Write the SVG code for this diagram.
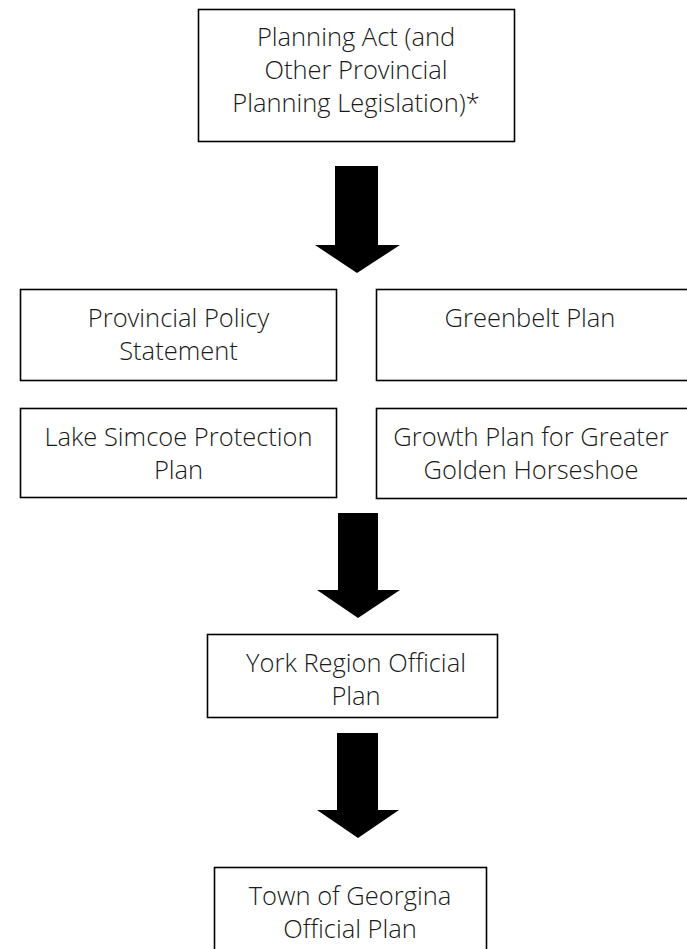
<svg xmlns="http://www.w3.org/2000/svg" width="687" height="949" viewBox="0 0 687 949">
<style>
.box{fill:#fff;stroke:#000;stroke-width:1.6}
.t{font-family:"Open Sans","Liberation Sans",sans-serif;font-weight:300;font-size:25.5px;fill:#1a1a1a;text-anchor:middle}
.arr{fill:#000}
</style>
<rect width="687" height="949" fill="#fff"/>
<g id="planning-act">
<rect class="box" x="198.5" y="9.5" width="316" height="132"/>
<text class="t" x="356" y="46">Planning Act (and</text>
<text class="t" x="356" y="79">Other Provincial</text>
<text class="t" x="356" y="112">Planning Legislation)*</text>
</g>
<g id="pps">
<rect class="box" x="20.5" y="289.5" width="316" height="91"/>
<text class="t" x="178.5" y="327">Provincial Policy</text>
<text class="t" x="178.5" y="360">Statement</text>
</g>
<g id="greenbelt">
<rect class="box" x="376.5" y="289.5" width="315" height="91"/>
<text class="t" x="530" y="327">Greenbelt Plan</text>
</g>
<g id="lake-simcoe">
<rect class="box" x="20.5" y="408.5" width="316" height="89"/>
<text class="t" x="178.5" y="446">Lake Simcoe Protection</text>
<text class="t" x="178.5" y="479">Plan</text>
</g>
<g id="growth-plan">
<rect class="box" x="376.5" y="408.5" width="315" height="90"/>
<text class="t" x="531" y="446">Growth Plan for Greater</text>
<text class="t" x="531" y="479">Golden Horseshoe</text>
</g>
<g id="york">
<rect class="box" x="207.5" y="634.5" width="290" height="83"/>
<text class="t" x="356" y="672">York Region Official</text>
<text class="t" x="356" y="705">Plan</text>
</g>
<g id="georgina">
<rect class="box" x="214.5" y="867.5" width="272" height="90"/>
<text class="t" x="350" y="905">Town of Georgina</text>
<text class="t" x="350" y="938">Official Plan</text>
</g>
<g id="connectors">
<polygon class="arr" points="335,166 378,166 378,245 400,245 357,273 315,245 335,245"/>
<polygon class="arr" points="338,513 378,513 378,590 400,590 358,618 317,590 338,590"/>
<polygon class="arr" points="337,733 378,733 378,810 399,810 358,838 317,810 337,810"/>
</g>
</svg>
